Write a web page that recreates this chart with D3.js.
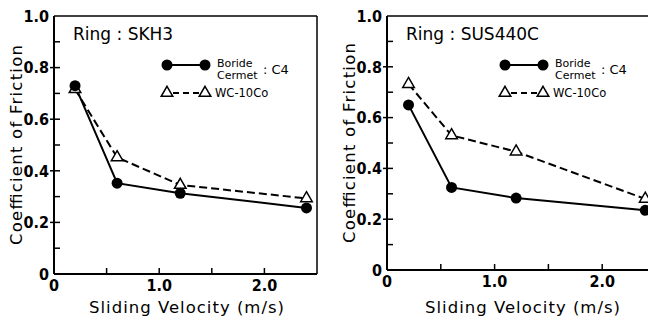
<!DOCTYPE html>
<html>
<head>
<meta charset="utf-8">
<script src="https://cdn.jsdelivr.net/npm/d3@7"></script>
<style>
body { margin: 0; background: #fff; }
svg { display: block; }
</style>
</head>
<body>
<svg id="chart" width="648" height="318"></svg>
<script>
// data
var velocity = [0.2, 0.6, 1.2, 2.4];
var skh3Boride = [0.73, 0.352, 0.313, 0.256];
var skh3WC = [0.716, 0.452, 0.345, 0.293];
var sus440Boride = [0.65, 0.325, 0.283, 0.235];
var sus440WC = [0.732, 0.53, 0.466, 0.28];
var xTickVals = [0, 1.0, 2.0];
var xMinorVals = [0.5, 1.5];
var yTickVals = [0, 0.2, 0.4, 0.6, 0.8, 1.0];
var yMinorVals = [0.1, 0.3, 0.5, 0.7, 0.9];

var panels = [
	{ring: "Ring : SKH3", boride: skh3Boride, wc: skh3WC, left: 54, right: 317, top: 16, bottom: 274, border: true, titleX: 186, legX: 167},
	{ring: "Ring : SUS440C", boride: sus440Boride, wc: sus440WC, left: 387, right: 656, top: 16, bottom: 270, border: false, titleX: 522, legX: 505}
];

var svg = d3.select("#chart");
var fmt = function(d){ return d === 0 ? "0" : d3.format(".1f")(d); };
var gothic = "'DejaVu Sans', sans-serif";
var narrow = "'Liberation Sans Narrow', 'DejaVu Sans Condensed', sans-serif";

panels.forEach(function(p){
	var x = d3.scaleLinear().domain([0, 2.5]).range([p.left, p.right]);
	var y = d3.scaleLinear().domain([0, 1]).range([p.bottom, p.top]);
	var g = svg.append("g");

	// frame
	g.append("line").attr("x1", p.left).attr("x2", p.left).attr("y1", p.top).attr("y2", p.bottom)
		.attr("stroke", "#000").attr("stroke-width", 2);
	g.append("line").attr("x1", p.left).attr("x2", p.right).attr("y1", p.bottom).attr("y2", p.bottom)
		.attr("stroke", "#000").attr("stroke-width", 2);
	g.append("line").attr("x1", p.left).attr("x2", p.right).attr("y1", p.top).attr("y2", p.top)
		.attr("stroke", "#000").attr("stroke-width", 1.5);
	if (p.border) {
		g.append("line").attr("x1", p.right).attr("x2", p.right).attr("y1", p.top).attr("y2", p.bottom)
			.attr("stroke", "#000").attr("stroke-width", 1.5);
	}

	// y ticks: major ones cross the axis, minor ones point in
	g.selectAll(".ytick").data(yTickVals.filter(d => d > 0 && d < 1)).join("line")
		.attr("x1", p.left - 4).attr("x2", p.left + 6)
		.attr("y1", d => y(d)).attr("y2", d => y(d))
		.attr("stroke", "#000").attr("stroke-width", 1.5);
	g.selectAll(".ymin").data(yMinorVals).join("line")
		.attr("x1", p.left).attr("x2", p.left + 6)
		.attr("y1", d => y(d)).attr("y2", d => y(d))
		.attr("stroke", "#000").attr("stroke-width", 1.5);
	g.selectAll(".ylab").data(yTickVals).join("text")
		.attr("x", p.left - 5).attr("y", d => y(d)).attr("dy", "0.36em")
		.attr("text-anchor", "end")
		.style("font-family", narrow)
		.style("font-weight", "bold").style("font-size", "16px")
		.text(fmt);

	// x ticks (inward)
	g.selectAll(".xtick").data(xTickVals.filter(d => d > 0).concat(xMinorVals)).join("line")
		.attr("x1", d => x(d)).attr("x2", d => x(d))
		.attr("y1", p.bottom).attr("y2", p.bottom - 6)
		.attr("stroke", "#000").attr("stroke-width", 1.5);
	g.selectAll(".xlab").data(xTickVals).join("text")
		.attr("x", d => x(d)).attr("y", p.bottom + 17)
		.attr("text-anchor", "middle")
		.style("font-family", narrow)
		.style("font-weight", "bold").style("font-size", "16px")
		.text(fmt);

	// axis titles
	g.append("text")
		.attr("x", p.titleX - 97).attr("y", 313)
		.attr("textLength", 195).attr("lengthAdjust", "spacing")
		.style("font-family", gothic).style("font-size", "16.5px")
		.text("Sliding Velocity (m/s)");
	g.append("text")
		.attr("transform", "translate(" + (p.left - 32) + "," + ((p.top + p.bottom) / 2 + 100) + ") rotate(-90)")
		.attr("textLength", 200).attr("lengthAdjust", "spacing")
		.style("font-family", gothic).style("font-size", "16.5px")
		.text("Coefficient of Friction");

	g.append("text")
		.attr("x", p.left + 19).attr("y", p.top + 24)
		.style("font-family", gothic).style("font-size", "17px")
		.text(p.ring);

	// series
	var line = d3.line().x((d, i) => x(velocity[i])).y(d => y(d));
	g.append("path").datum(p.wc).attr("d", line)
		.attr("fill", "none").attr("stroke", "#000").attr("stroke-width", 2)
		.attr("stroke-dasharray", "8,4");
	g.append("path").datum(p.boride).attr("d", line)
		.attr("fill", "none").attr("stroke", "#000").attr("stroke-width", 2);

	var tri = d3.symbol().type(d3.symbolTriangle).size(58);
	g.selectAll(".wc").data(p.wc).join("path")
		.attr("transform", (d, i) => "translate(" + x(velocity[i]) + "," + y(d) + ")")
		.attr("d", tri).attr("fill", "#fff").attr("stroke", "#000").attr("stroke-width", 1.5);
	g.selectAll(".bor").data(p.boride).join("circle")
		.attr("cx", (d, i) => x(velocity[i])).attr("cy", d => y(d))
		.attr("r", 5.5).attr("fill", "#000");

	// legend
	var lx = p.legX, ly = p.top + 49;
	g.append("line").attr("x1", lx).attr("x2", lx + 38).attr("y1", ly).attr("y2", ly)
		.attr("stroke", "#000").attr("stroke-width", 2);
	g.selectAll(".lc").data([lx, lx + 38]).join("circle")
		.attr("cx", d => d).attr("cy", ly).attr("r", 5.5).attr("fill", "#000");
	g.append("line").attr("x1", lx + 6).attr("x2", lx + 32).attr("y1", ly + 28).attr("y2", ly + 28)
		.attr("stroke", "#000").attr("stroke-width", 2).attr("stroke-dasharray", "6,4");
	g.selectAll(".lt").data([lx, lx + 38]).join("path")
		.attr("transform", d => "translate(" + d + "," + (ly + 28) + ")")
		.attr("d", tri).attr("fill", "#fff").attr("stroke", "#000").attr("stroke-width", 1.5);
	g.append("text").attr("x", lx + 50).attr("y", ly + 2)
		.style("font-family", gothic).style("font-size", "11px").text("Boride");
	g.append("text").attr("x", lx + 50).attr("y", ly + 14)
		.style("font-family", gothic).style("font-size", "11px").text("Cermet");
	g.append("text").attr("x", lx + 96).attr("y", ly + 9)
		.style("font-family", gothic).style("font-size", "13px").text(": C4");
	g.append("text").attr("x", lx + 48).attr("y", ly + 32)
		.style("font-family", gothic).style("font-size", "11.5px").text("WC-10Co");
});
</script>
</body>
</html>
